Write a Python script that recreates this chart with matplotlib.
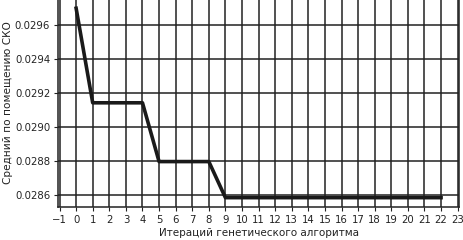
import matplotlib
matplotlib.use("Agg")
import matplotlib.pyplot as plt
from matplotlib.ticker import MultipleLocator

# iteration number and mean RMS error per room
iterations = list(range(0, 23))
rms_error = [0.02970, 0.029142, 0.029142, 0.029142, 0.029142,
             0.028795, 0.028795, 0.028795, 0.028795] + [0.028582] * 14

fig = plt.figure(figsize=(4.63, 2.40), dpi=100)
ax = fig.add_axes([0.125, 0.137, 0.867, 0.868])

ax.plot(iterations, rms_error, color="#1a1a1a", linewidth=2.6)

ax.xaxis.set_major_locator(MultipleLocator(1))
ax.yaxis.set_major_locator(MultipleLocator(0.0002))
ax.yaxis.set_major_formatter(plt.FormatStrFormatter("%.4f"))
ax.grid(True, color="#222222", linewidth=1.1)
for s in ax.spines.values():
    s.set_color("#222222")
    s.set_linewidth(1.1)

ax.tick_params(labelsize=7.3, colors="#222222", length=3, pad=2.5)
ax.set_xlabel("Итераций генетического алгоритма", fontsize=7.5, color="#222222", labelpad=2)
ax.set_ylabel("Средний по помещению СКО", fontsize=7.6, color="#222222", labelpad=1)

fig.savefig("out.png", dpi=100)
